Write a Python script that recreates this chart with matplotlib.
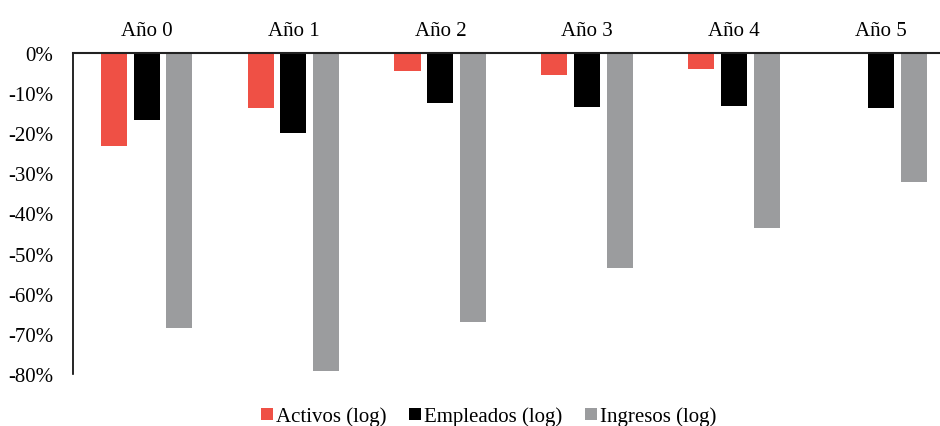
import matplotlib.pyplot as plt
import numpy as np
from matplotlib.ticker import FuncFormatter

# Datos
anios = ['Año 0', 'Año 1', 'Año 2', 'Año 3', 'Año 4', 'Año 5']
activos = [-23.2, -13.7, -4.6, -5.5, -4.0, 0.0]
empleados = [-16.7, -20.0, -12.5, -13.5, -13.2, -13.7]
ingresos = [-68.6, -79.3, -67.1, -53.6, -43.6, -32.1]

series = [('Activos (log)', activos, '#EF5045'),
          ('Empleados (log)', empleados, '#000000'),
          ('Ingresos (log)', ingresos, '#9B9C9E')]

plt.rcParams['font.family'] = ['Liberation Serif', 'DejaVu Serif']

fig = plt.figure(figsize=(9.4, 4.27), dpi=100)
ax = fig.add_axes([0.0777, 0.1218, 0.938, 0.7518])

x = np.arange(len(anios))
ancho = 0.177
paso = 0.224
for i, (nombre, valores, color) in enumerate(series):
    ax.bar(x + (i - 1) * paso, valores, width=ancho, color=color, label=nombre)

ax.set_xlim(-0.5, len(anios) - 0.5)
ax.set_ylim(-80, 0)
ax.set_yticks(np.arange(-80, 1, 10))
ax.yaxis.set_major_formatter(FuncFormatter(lambda v, p: f'{v:.0f}%'))

ax.set_xticks(x)
ax.set_xticklabels(anios)
ax.xaxis.tick_top()
ax.tick_params(axis='x', length=0, pad=9, labelsize=15)
ax.tick_params(axis='y', length=0, pad=14, labelsize=15)

ax.spines['right'].set_visible(False)
ax.spines['bottom'].set_visible(False)
ax.spines['top'].set_color('#222222')
ax.spines['top'].set_linewidth(1.5)
ax.spines['left'].set_linewidth(1.2)

fig.legend(loc='center', bbox_to_anchor=(0.52, 0.022), ncol=3, frameon=False,
           fontsize=15, handlelength=0.55, handleheight=0.55, handletextpad=0.15,
           columnspacing=1.1)

fig.savefig('out.png', dpi=100)
